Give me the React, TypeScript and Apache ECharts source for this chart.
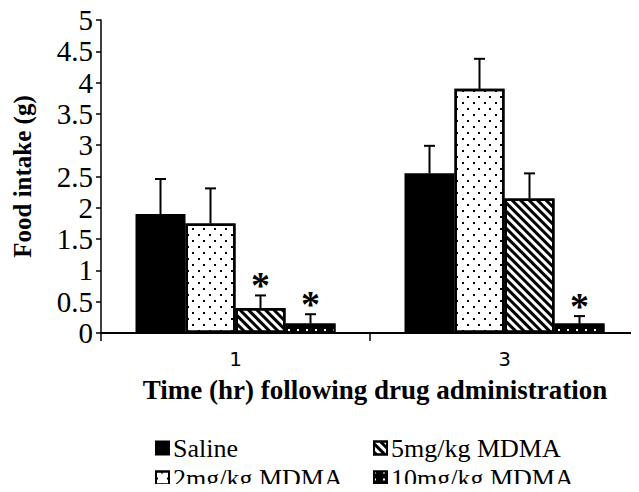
import React, { useEffect, useRef } from 'react';
import * as echarts from 'echarts';

const categories = ['1', '3'];
const seriesNames = ['Saline', '2mg/kg MDMA', '5mg/kg MDMA', '10mg/kg MDMA'];
const salineMean = [1.9, 2.55];
const mdma2Mean = [1.75, 3.9];
const mdma5Mean = [0.4, 2.15];
const mdma10Mean = [0.15, 0.15];
const salineSem = [0.56, 0.44];
const mdma2Sem = [0.56, 0.48];
const mdma5Sem = [0.2, 0.4];
const mdma10Sem = [0.15, 0.12];
const salineSig = [false, false];
const mdma2Sig = [false, false];
const mdma5Sig = [true, false];
const mdma10Sig = [true, true];
const xTitle = 'Time (hr) following drug administration';
const yTitle = 'Food intake (g)';

const means = [salineMean, mdma2Mean, mdma5Mean, mdma10Mean];
const sems = [salineSem, mdma2Sem, mdma5Sem, mdma10Sem];
const sigs = [salineSig, mdma2Sig, mdma5Sig, mdma10Sig];

const BAR_W = 50;
const SERIF = '"Liberation Serif", "Times New Roman", serif';

const styles: any[] = [
  { color: '#000', borderColor: '#000', borderWidth: 2 },
  {
    color: '#fff', borderColor: '#000', borderWidth: 2.5,
    decal: { symbol: 'rect', symbolSize: 1, color: '#000', dashArrayX: [[1.2, 8.8], [0, 5, 1.2, 3.8]], dashArrayY: [1.2, 3.8], rotation: 0 },
  },
  {
    color: '#fff', borderColor: '#000', borderWidth: 2.5,
    decal: { symbol: 'rect', symbolSize: 1, color: '#000', dashArrayX: [1, 0], dashArrayY: [2.8, 2.8], rotation: Math.PI / 4 },
  },
  {
    color: '#000', borderColor: '#000', borderWidth: 2,
    decal: { symbol: 'rect', symbolSize: 1, color: '#fff', dashArrayX: [1.5, 6.5], dashArrayY: [1.5, 5], rotation: 0 },
  },
];

const legendPos = [
  { left: 155, top: 435 },
  { left: 155, top: 465 },
  { left: 373, top: 435 },
  { left: 373, top: 465 },
];

export default function App() {
  const ref = useRef<HTMLDivElement>(null);
  useEffect(() => {
    if (!ref.current) return;
    const chart = echarts.init(ref.current, null, { renderer: 'svg' });
    const errData: any[] = [];
    means.forEach((arr, s) => {
      arr.forEach((m, c) => {
        errData.push([c, s, m, m + sems[s][c], sigs[s][c] ? 1 : 0]);
      });
    });
    const option: any = {
      animation: false,
      backgroundColor: '#fff',
      grid: { left: 101, top: 20, width: 547, bottom: 159, containLabel: false },
      legend: seriesNames.map((n, i) => ({
        data: [{ name: n, icon: 'rect' }],
        left: legendPos[i].left,
        top: legendPos[i].top,
        itemWidth: 13,
        itemHeight: 13,
        itemGap: 0,
        padding: 0,
        selectedMode: false,
        textStyle: { fontFamily: SERIF, fontSize: 26, color: '#000', padding: [0, 0, 0, -1] },
      })),
      xAxis: {
        type: 'category',
        data: categories,
        axisLine: { lineStyle: { color: '#000', width: 2 } },
        axisTick: { show: true, length: 8, lineStyle: { color: '#000', width: 1.5 } },
        axisLabel: { margin: 16, fontFamily: '"DejaVu Sans", sans-serif', fontSize: 20, color: '#000' },
      },
      yAxis: {
        type: 'value',
        min: 0,
        max: 5,
        interval: 0.5,
        splitLine: { show: false },
        axisLine: { show: true, lineStyle: { color: '#000', width: 1.5 } },
        axisTick: { show: true, length: 5, lineStyle: { color: '#000', width: 1.5 } },
        axisLabel: { margin: 8, fontFamily: SERIF, fontSize: 29, color: '#000' },
        name: yTitle,
        nameLocation: 'middle',
        nameGap: 66,
        nameTextStyle: { fontFamily: SERIF, fontSize: 25, fontWeight: 'bold', color: '#000' },
      },
      graphic: [
        {
          type: 'text', x: 375, y: 390,
          style: { text: xTitle, font: `bold 27px ${SERIF}`, fill: '#000', textAlign: 'center', textVerticalAlign: 'middle' },
        },
      ],
      series: [
        ...seriesNames.map((n, i) => ({
          name: n,
          type: 'bar',
          data: means[i],
          barWidth: BAR_W,
          barGap: '0%',
          itemStyle: styles[i],
          z: 2,
        })),
        {
          type: 'custom',
          data: errData,
          encode: { x: 0, y: 3 },
          z: 5,
          silent: true,
          renderItem: (params: any, api: any) => {
            const c = api.value(0);
            const s = api.value(1);
            const m = api.value(2);
            const t = api.value(3);
            const sig = api.value(4);
            const p0 = api.coord([c, m]);
            const p1 = api.coord([c, t]);
            const x = p0[0] + (s - 1.5) * BAR_W;
            const children: any[] = [
              { type: 'line', shape: { x1: x, y1: p0[1], x2: x, y2: p1[1] }, style: { stroke: '#000', lineWidth: 2 } },
              { type: 'line', shape: { x1: x - 5.5, y1: p1[1], x2: x + 5.5, y2: p1[1] }, style: { stroke: '#000', lineWidth: 2 } },
            ];
            if (sig) {
              children.push({
                type: 'text', x, y: p1[1] - 10,
                style: { text: '*', font: `bold 38px ${SERIF}`, fill: '#000', textAlign: 'center', textVerticalAlign: 'middle' },
              });
            }
            return { type: 'group', children };
          },
        },
      ],
    };
    chart.setOption(option);
    return () => chart.dispose();
  }, []);
  return <div ref={ref} style={{ width: 639, height: 492, margin: -8 }} />;
}
